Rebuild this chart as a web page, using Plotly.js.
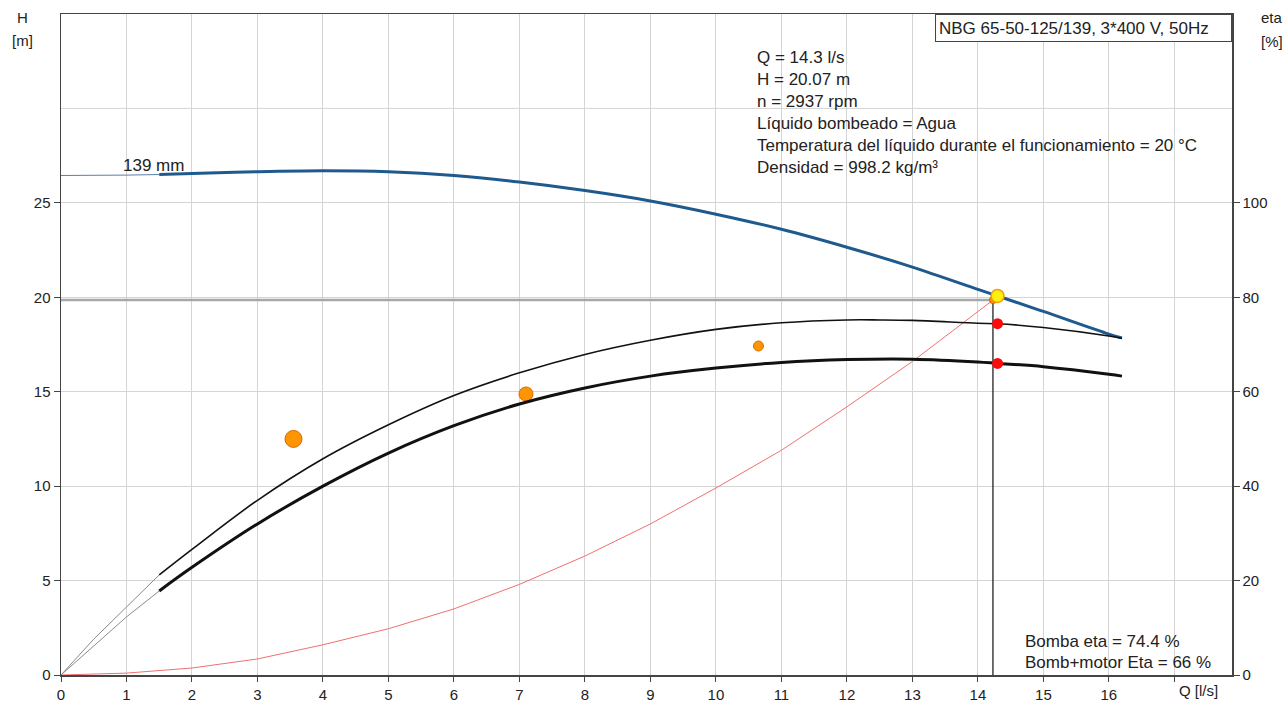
<!DOCTYPE html>
<html>
<head>
<meta charset="utf-8">
<script src="https://cdn.plot.ly/plotly-3.0.1.min.js"></script>
<style>html,body{margin:0;padding:0;background:#fff;}#chart{width:1287px;height:702px;}</style>
</head>
<body>
<div id="chart"></div>
<script>
// ---- Data ----
// Head curve H(Q) [m]
const headThinQ = [0, 0.5, 1, 1.5];
const headThinH = [26.45, 26.45, 26.47, 26.5];
const headQ = [1.5, 2, 3, 4, 5, 6, 7, 8, 9, 10, 11, 12, 13, 14, 14.3, 15, 16, 16.2];
const headH = [26.5, 26.55, 26.65, 26.7, 26.65, 26.45, 26.1, 25.65, 25.1, 24.4, 23.6, 22.65, 21.6, 20.42, 20.07, 19.25, 18.05, 17.85];

// Pump efficiency [%]
const etaThinQ = [0, 0.5, 1, 1.5];
const etaPumpThin = [0, 7.6, 14.4, 21.2];
const etaQ = [1.5, 2, 3, 4, 5, 6, 7, 8, 9, 10, 11, 12, 12.5, 13, 14, 14.3, 15, 16, 16.2];
const etaPump = [21.2, 26.6, 37.0, 45.8, 53.0, 59.2, 64.0, 67.9, 70.9, 73.2, 74.6, 75.2, 75.2, 75.1, 74.5, 74.4, 73.6, 71.8, 71.3];

// Pump + motor efficiency [%]
const etaTotThin = [0, 6.2, 12.3, 17.8];
const etaTotQ = [1.5, 2, 3, 4, 5, 6, 7, 8, 9, 10, 11, 12, 13, 14, 14.3, 15, 16, 16.2];
const etaTot = [17.8, 22.8, 32.0, 40.0, 47.0, 52.8, 57.4, 60.8, 63.3, 65.0, 66.2, 66.8, 66.9, 66.3, 66, 65.3, 63.7, 63.3];

// System curve [m]
const sysQ = [0, 1, 2, 3, 4, 5, 6, 7, 8, 9, 10, 11, 12, 13, 14.23];
const sysH = [0, 0.1, 0.37, 0.85, 1.6, 2.45, 3.5, 4.8, 6.3, 8.0, 9.9, 11.9, 14.2, 16.6, 19.85];

// Orange markers
const dotQ = [3.55, 7.1, 10.65];
const dotH = [12.5, 14.88, 17.42];
const dotSize = [17, 14, 10];

// Duty point
const dutyQ = 14.3, dutyH = 20.07;
const lineQ = 14.23, lineH = 19.85;
const dutyEtaPump = 74.4, dutyEtaTot = 66;

// Ticks
const xTickVals = [0,1,2,3,4,5,6,7,8,9,10,11,12,13,14,15,16,17];
const xTickText = ["0","1","2","3","4","5","6","7","8","9","10","11","12","13","14","15","16",""];
const yTickVals = [0,5,10,15,20,25];
const yExtraGrid = [30];
const y2TickVals = [0,20,40,60,80,100];

// Texts
const titleBox = "NBG 65-50-125/139, 3*400 V, 50Hz";
const infoLines = ["Q = 14.3 l/s", "H = 20.07 m", "n = 2937 rpm", "Líquido bombeado = Agua",
  "Temperatura del líquido durante el funcionamiento = 20 °C", "Densidad = 998.2 kg/m³"];
const etaLines = ["Bomba eta = 74.4 %", "Bomb+motor Eta = 66 %"];

// ---- Geometry helpers ----
const W = 1287, H = 702;
const mL = 61, mR = 55, mT = 14, mB = 27;
const pw = W - mL - mR, ph = H - mT - mB;
const px = x => (x - mL) / pw;
const py = y => (H - mB - y) / ph;

const traces = [
  {x: sysQ, y: sysH, mode: 'lines', line: {color: '#f07070', width: 1}, hoverinfo: 'skip'},
  {x: [0, lineQ], y: [lineH, lineH], mode: 'lines', line: {color: '#a8a8a8', width: 2.5}, hoverinfo: 'skip'},
  {x: [lineQ, lineQ], y: [0, lineH], mode: 'lines', line: {color: '#222', width: 1.3}, hoverinfo: 'skip'},
  {x: etaThinQ, y: etaPumpThin, yaxis: 'y2', mode: 'lines', line: {color: '#8a8a8a', width: 1}, hoverinfo: 'skip'},
  {x: etaThinQ, y: etaTotThin, yaxis: 'y2', mode: 'lines', line: {color: '#8a8a8a', width: 1}, hoverinfo: 'skip'},
  {x: etaQ, y: etaPump, yaxis: 'y2', mode: 'lines', line: {color: '#111', width: 1.6, shape: 'spline', smoothing: 1}},
  {x: etaTotQ, y: etaTot, yaxis: 'y2', mode: 'lines', line: {color: '#111', width: 3, shape: 'spline', smoothing: 1}},
  {x: headThinQ, y: headThinH, mode: 'lines', line: {color: '#5a7fa3', width: 1}, hoverinfo: 'skip'},
  {x: headQ, y: headH, mode: 'lines', line: {color: '#1f5a8e', width: 3, shape: 'spline', smoothing: 1}},
  {x: dotQ, y: dotH, mode: 'markers', opacity: 1, marker: {color: '#ff9500', opacity: 1, size: dotSize, line: {color: '#d86a00', width: 1}}},
  {x: [lineQ], y: [lineH], mode: 'markers', marker: {color: '#ff8a20', opacity: 1, size: 7, line: {color: '#e06000', width: 1}}},
  {x: [dutyQ, dutyQ], y: [dutyEtaPump, dutyEtaTot], yaxis: 'y2', mode: 'markers', marker: {color: '#ff0a0a', opacity: 1, size: 11, line: {width: 0}}},
  {x: [dutyQ], y: [dutyH], mode: 'markers', marker: {color: '#ffee10', opacity: 1, size: 13, line: {color: '#f0a000', width: 1.5}}}
];

const txtFont = {size: 17, color: '#222'};
const axFont = {size: 15, color: '#222'};
const annotations = [];
annotations.push({xref: 'paper', yref: 'paper', x: px(1232), y: 1, xanchor: 'right', yanchor: 'top',
  text: titleBox, showarrow: false, align: 'left', width: 289, height: 20,
  bordercolor: '#444', borderwidth: 1, borderpad: 3, bgcolor: '#fff', font: txtFont});
const infoY = [58, 79.5, 101.5, 123.5, 145.5, 167];
infoLines.forEach((t, i) => annotations.push({xref: 'paper', yref: 'paper', x: px(755), y: py(infoY[i]),
  xanchor: 'left', yanchor: 'middle', text: t, showarrow: false, font: txtFont}));
const etaY = [641, 662];
etaLines.forEach((t, i) => annotations.push({xref: 'paper', yref: 'paper', x: px(1023), y: py(etaY[i]),
  xanchor: 'left', yanchor: 'middle', text: t, showarrow: false, font: txtFont}));
annotations.push({xref: 'paper', yref: 'paper', x: px(153), y: py(165), xanchor: 'center', yanchor: 'middle',
  text: '139 mm', showarrow: false, font: txtFont});
annotations.push({xref: 'paper', yref: 'paper', x: px(22), y: py(18), xanchor: 'center', yanchor: 'middle',
  text: 'H', showarrow: false, font: axFont});
annotations.push({xref: 'paper', yref: 'paper', x: px(22), y: py(40), xanchor: 'center', yanchor: 'middle',
  text: '[m]', showarrow: false, font: axFont});
annotations.push({xref: 'paper', yref: 'paper', x: px(1272), y: py(18), xanchor: 'center', yanchor: 'middle',
  text: 'eta', showarrow: false, font: axFont});
annotations.push({xref: 'paper', yref: 'paper', x: px(1272), y: py(42), xanchor: 'center', yanchor: 'middle',
  text: '[%]', showarrow: false, font: axFont});
annotations.push({xref: 'paper', yref: 'paper', x: px(1198), y: py(690), xanchor: 'center', yanchor: 'middle',
  text: 'Q [l/s]', showarrow: false, font: axFont});

const shapes = yExtraGrid.map(v => ({type: 'line', xref: 'paper', yref: 'y', x0: 0, x1: 1, y0: v, y1: v,
  line: {color: '#d4d4d4', width: 1}, layer: 'below'}));

const layout = {
  width: W, height: H,
  margin: {l: mL, r: mR, t: mT, b: mB, pad: 0},
  paper_bgcolor: '#fff', plot_bgcolor: '#fff',
  showlegend: false,
  font: {family: 'Liberation Sans, Arial, sans-serif', size: 15, color: '#222'},
  xaxis: {range: [0, 17.88], tickvals: xTickVals, ticktext: xTickText, showgrid: true, gridcolor: '#d4d4d4', gridwidth: 1,
    zeroline: false, showline: true, linecolor: '#444', linewidth: 1.5, mirror: true, ticks: 'outside', ticklen: 5,
    tickcolor: '#444', tickfont: axFont},
  yaxis: {range: [0, 35], tickvals: yTickVals, showgrid: true, gridcolor: '#d4d4d4', gridwidth: 1,
    zeroline: false, showline: true, linecolor: '#444', linewidth: 1.5, ticks: 'outside', ticklen: 6,
    tickcolor: '#444', tickfont: axFont},
  yaxis2: {range: [0, 140], overlaying: 'y', side: 'right', tickvals: y2TickVals, showgrid: false,
    zeroline: false, showline: true, linecolor: '#444', linewidth: 1.5, ticks: 'outside', ticklen: 6,
    tickcolor: '#444', tickfont: axFont},
  shapes: shapes,
  annotations: annotations
};

Plotly.newPlot('chart', traces, layout, {staticPlot: true, displayModeBar: false});
</script>
</body>
</html>
